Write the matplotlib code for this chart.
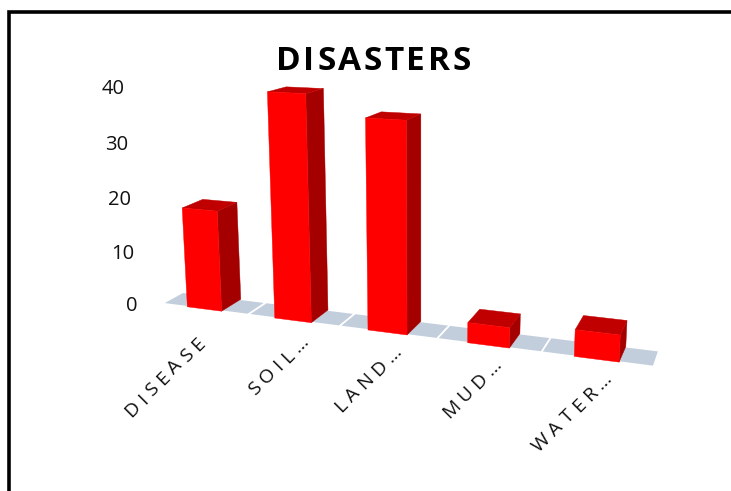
import numpy as np
import matplotlib
matplotlib.use("Agg")
import matplotlib.pyplot as plt
from matplotlib.patches import Polygon, Rectangle
from matplotlib.text import Text
from matplotlib.transforms import IdentityTransform, Bbox

# data
categories = ["DISEASE", "SOIL…", "LAND…", "MUD…", "WATER…"]
values = [18.5, 40, 36.5, 3.5, 4.5]
y_ticks = [0, 10, 20, 30, 40]
title = "DISASTERS"

W, H = 731, 491
FRONT, SIDE, TOP, FLOOR = "#FF0000", "#A50000", "#C00000", "#C3CEDD"
BAR_L, BAR_R = 0.30, 0.70

# Camera calibration: (slot position, value, depth) -> picture position
cal_world = np.array([
    (0, 0, 0), (1, 0, 0), (2, 0, 0), (3, 0, 0), (4, 0, 0), (5, 0, 0),
    (0, 0, 1), (5, 0, 1),
    (0, 10, 0), (0, 20, 0), (0, 30, 0), (0, 40, 0),
    (.3, 18.5, 0), (.7, 18.5, 0), (1.3, 40, 0), (1.7, 40, 0),
    (2.3, 36.5, 0), (2.7, 36.5, 0), (4.7, 4.5, 0),
    (1.7, 40, 1), (1.3, 40, 1), (2.7, 36.5, 1), (4.7, 4.5, 1), (.7, 18.5, 1),
], float)
cal_pict = np.array([
    (162, 304), (248, 314), (339, 327), (437, 340), (543, 353), (652, 367),
    (185, 293), (658, 352),
    (159, 251), (156, 198), (153, 143), (150, 87),
    (181, 206), (216, 209), (267, 93), (306, 96),
    (367, 117), (408, 119), (620, 333),
    (323, 89), (285, 87), (421, 113), (628, 320), (236, 201),
], float)


def fit_camera(w, p):
    rows, rhs = [], []
    for (x, v, z), (u, t) in zip(w, p):
        rows.append([x, v, z, 1, 0, 0, 0, 0, -u * x, -u * v, -u * z])
        rows.append([0, 0, 0, 0, x, v, z, 1, -t * x, -t * v, -t * z])
        rhs += [u, t]
    A, b = np.array(rows), np.array(rhs)
    s = A.std(axis=0) + 1e-9
    sol = np.linalg.lstsq(A / s, b, rcond=None)[0] / s
    return np.append(sol, 1).reshape(3, 4)


CAM = fit_camera(cal_world, cal_pict)


def project(x, v, z):
    q = CAM @ np.array([x, v, z, 1.0])
    return q[:2] / q[2]


class SpacedText(Text):
    """One text artist drawn with extra letter spacing (pixels)."""

    def __init__(self, *a, tracking=0, anchor_end=False, **k):
        super().__init__(*a, **k)
        self._tracking = tracking
        self._anchor_end = anchor_end

    def _layout_chars(self, renderer):
        props = self.get_fontproperties()
        widths = [renderer.get_text_width_height_descent(c, props, False)[0]
                  for c in self.get_text()]
        total = sum(widths) + self._tracking * (len(widths) - 1)
        r = np.deg2rad(self.get_rotation())
        d = np.array([np.cos(r), np.sin(r)])
        x0, y0 = self.get_transform().transform(self.get_position())
        start = np.array([x0, y0]) - (d * total if self._anchor_end else 0)
        out, pos = [], 0.0
        for c, w in zip(self.get_text(), widths):
            out.append((c, start + d * pos))
            pos += w + self._tracking
        return out, start, start + d * total

    def draw(self, renderer):
        chars, _, _ = self._layout_chars(renderer)
        for c, xy in chars:
            t = Text(xy[0], xy[1], c, color=self.get_color(),
                     fontproperties=self.get_fontproperties(),
                     rotation=self.get_rotation(), rotation_mode="anchor",
                     ha="left", va="baseline", transform=IdentityTransform())
            t.set_figure(self.get_figure())
            t.draw(renderer)

    def get_window_extent(self, renderer=None, dpi=None):
        if renderer is None:
            renderer = self.get_figure()._get_renderer()
        _, a, b = self._layout_chars(renderer)
        h = self.get_fontsize() * self.get_figure().dpi / 72 * 0.75
        r = np.deg2rad(self.get_rotation())
        n = np.array([-np.sin(r), np.cos(r)]) * h
        pts = np.array([a, b, a + n, b + n])
        return Bbox([pts.min(axis=0), pts.max(axis=0)])


fig = plt.figure(figsize=(W / 100, H / 100), dpi=100)
ax = fig.add_axes([0, 0, 1, 1])
ax.set_xlim(0, W)
ax.set_ylim(H, 0)
ax.axis("off")

ax.add_patch(Rectangle((8.5, 12), W + 20, H + 20, fc="white", ec="black", lw=2.6))

# floor
for i in range(len(categories)):
    pts = [project(i, 0, 0), project(i + 1, 0, 0), project(i + 1, 0, 1), project(i, 0, 1)]
    ax.add_patch(Polygon(pts, fc=FLOOR, ec="white", lw=1.2, zorder=2))

# bars
for i, val in enumerate(values):
    a, b = i + BAR_L, i + BAR_R
    front = [project(a, 0, 0), project(b, 0, 0), project(b, val, 0), project(a, val, 0)]
    side = [project(b, 0, 0), project(b, 0, 1), project(b, val, 1), project(b, val, 0)]
    top = [project(a, val, 0), project(b, val, 0), project(b, val, 1), project(a, val, 1)]
    for pts, col in ((side, SIDE), (top, TOP), (front, FRONT)):
        ax.add_patch(Polygon(pts, fc=col, ec=col, lw=0.3, zorder=3 + i))

# value ticks
for v in y_ticks:
    x, y = project(0, v, 0)
    ax.text(x - 25, y + 2.5, str(v), ha="right", va="center", fontsize=14.5,
            family="Open Sans", color="#111111")

# category labels: end of each label's baseline, offset from its slot
label_off = [(1, 35), (16, 22), (15, 20), (14, 20), (16, 20)]
for i, name in enumerate(categories):
    x, y = project(i + 0.5, 0, 0)
    t = SpacedText(x + label_off[i][0], y + label_off[i][1], name, rotation=45,
                   fontsize=14, family="Open Sans", color="#111111",
                   tracking=5.0, anchor_end=True, transform=ax.transData)
    ax.add_artist(t)

# title
tt = SpacedText(276, 70, title, fontsize=24, family="Open Sans", fontweight="bold",
                color="black", tracking=2.6, transform=ax.transData)
ax.add_artist(tt)

fig.savefig("out.png", dpi=100)
